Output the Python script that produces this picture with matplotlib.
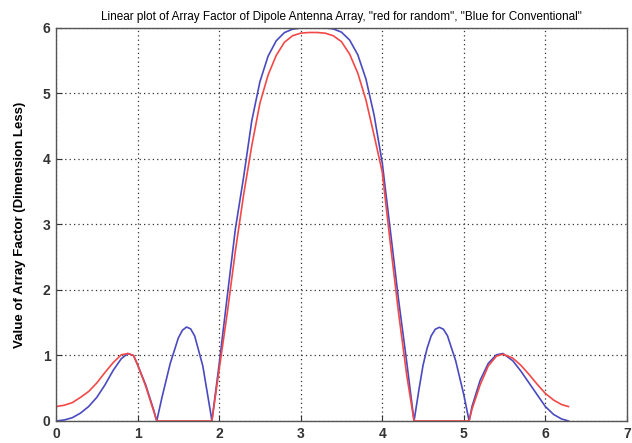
import numpy as np
import matplotlib
matplotlib.use("Agg")
from matplotlib import pyplot as plt

# x positions (radians) and values
x_vals = [0.0, 0.1, 0.2, 0.3, 0.4, 0.5, 0.6, 0.7, 0.8, 0.88, 0.95, 1.0, 1.1, 1.2, 1.235,
          1.3, 1.4, 1.5, 1.55, 1.6, 1.65, 1.7, 1.8, 1.9, 1.911,
          2.0, 2.1, 2.2, 2.3, 2.4, 2.5, 2.6, 2.7, 2.8, 2.9, 3.0, 3.1, 3.1416,
          3.2, 3.3, 3.4, 3.5, 3.6, 3.7, 3.8, 3.9, 4.0, 4.1, 4.2, 4.3,
          4.39, 4.45, 4.5, 4.55, 4.6, 4.65, 4.7, 4.75, 4.8, 4.9, 5.0, 5.065,
          5.1, 5.2, 5.3, 5.4, 5.48, 5.6, 5.7, 5.8, 5.9, 6.0, 6.1, 6.2, 6.283]

# conventional array (blue)
af_conventional = [0.0, 0.015, 0.05, 0.12, 0.22, 0.36, 0.55, 0.77, 0.95, 1.03, 1.0, 0.86, 0.55, 0.16, 0.0,
                   0.364, 0.876, 1.268, 1.385, 1.434, 1.407, 1.299, 0.840, 0.094, 0.0,
                   0.862, 1.907, 2.938, 3.72, 4.58, 5.178, 5.568, 5.803, 5.928, 5.981, 5.998, 6.0, 6.0,
                   6.0, 6.0, 5.985, 5.935, 5.815, 5.59, 5.22, 4.67, 3.94, 2.90, 1.85, 0.90,
                   0.0, 0.48, 0.85, 1.11, 1.30, 1.40, 1.43, 1.40, 1.30, 0.92, 0.40, 0.0,
                   0.22, 0.62, 0.88, 1.01, 1.03, 0.92, 0.76, 0.58, 0.40, 0.22, 0.10, 0.03, 0.0]

# random array (red)
af_random = [0.22, 0.24, 0.28, 0.36, 0.45, 0.58, 0.74, 0.89, 1.01, 1.03, 1.0, 0.86, 0.53, 0.14, 0.0,
             0.0, 0.0, 0.0, 0.0, 0.0, 0.0, 0.0, 0.0, 0.0, 0.0,
             0.78, 1.65, 2.60, 3.45, 4.20, 4.85, 5.28, 5.58, 5.78, 5.88, 5.92, 5.93, 5.93,
             5.93, 5.92, 5.88, 5.79, 5.60, 5.31, 4.90, 4.36, 3.80, 2.70, 1.65, 0.70,
             0.0, 0.0, 0.0, 0.0, 0.0, 0.0, 0.0, 0.0, 0.0, 0.0, 0.0, 0.0,
             0.18, 0.55, 0.84, 0.99, 1.02, 0.96, 0.85, 0.71, 0.56, 0.42, 0.32, 0.25, 0.22]

x_ticks = [0, 1, 2, 3, 4, 5, 6, 7]
y_ticks = [0, 1, 2, 3, 4, 5, 6]

plt.rcParams['font.family'] = ['Liberation Sans', 'DejaVu Sans']

fig = plt.figure(figsize=(6.32, 4.43), dpi=100)
ax = fig.add_axes([0.0886, 0.0497, 0.9034, 0.8873])

ax.plot(x_vals, af_conventional, color='#4a4ac0', linewidth=1.2)
ax.plot(x_vals, af_random, color='#f24848', linewidth=1.2)

ax.set_xlim(0, 7)
ax.set_ylim(0, 6)
ax.set_xticks(x_ticks)
ax.set_yticks(y_ticks)
ax.tick_params(direction='in', length=4, labelsize=10, colors='#333333', pad=4)
for lab in ax.get_xticklabels() + ax.get_yticklabels():
    lab.set_fontweight('bold')
ax.grid(True, linestyle=(0, (1, 2.5)), color='#333333', linewidth=0.9)
for s in ax.spines.values():
    s.set_color('#555555')
    s.set_linewidth(1.0)

ax.set_title('Linear plot of Array Factor of Dipole Antenna Array, "red for random", "Blue for Conventional"',
             fontsize=8.5, pad=6)
ax.set_ylabel('Value of Array Factor (Dimension Less)', fontsize=9.5, fontweight='bold', labelpad=12)

fig.savefig('out.png', dpi=100)
